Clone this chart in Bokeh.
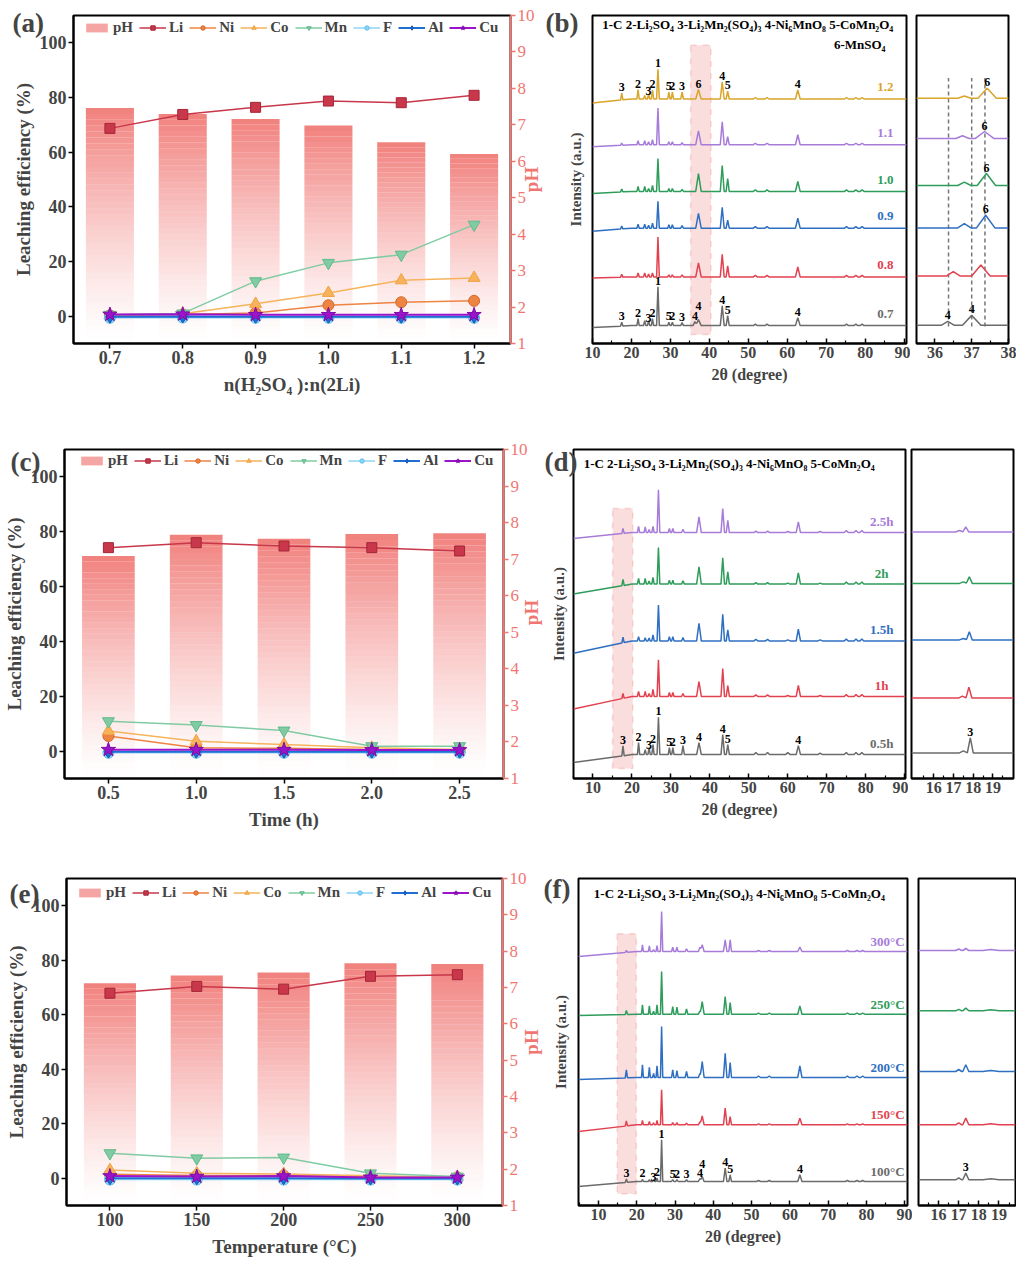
import numpy as np
from bokeh.plotting import figure
from bokeh.models import (Range1d, LinearAxis, FixedTicker, Legend, LegendItem, Label, Title,
                          ColumnDataSource, PrintfTickFormatter, BoxAnnotation)
from bokeh.layouts import row, column
from bokeh.embed import file_html
from bokeh.resources import INLINE
from bokeh.core.properties import value

SERIF = "Liberation Serif"
PH_COLOR = "#F07672"

# ---------------- leaching data ----------------
a_ratio = [0.7, 0.8, 0.9, 1.0, 1.1, 1.2]
a_ph = [7.46, 7.30, 7.16, 6.98, 6.52, 6.20]
a_li = [68.7, 73.8, 76.4, 78.7, 78.1, 80.8]
a_ni = [0.3, 0.6, 1.2, 4.0, 5.1, 5.6]
a_co = [0.4, 0.9, 4.5, 8.5, 13.1, 14.0]
a_mn = [0.5, 1.0, 12.8, 19.5, 22.5, 33.5]
a_f = [-0.6, -0.5, -0.6, -0.6, -0.6, -0.6]
a_al = [-0.2, -0.1, -0.2, -0.2, -0.2, -0.2]
a_cu = [0.6, 0.7, 0.5, 0.5, 0.5, 0.5]

c_time = [0.5, 1.0, 1.5, 2.0, 2.5]
c_ph = [7.09, 7.67, 7.56, 7.69, 7.71]
c_li = [74.2, 76.0, 74.8, 74.2, 73.0]
c_ni = [5.5, 1.2, 1.0, 0.6, 0.4]
c_co = [7.3, 3.6, 2.4, 1.2, 0.6]
c_mn = [10.9, 9.5, 7.5, 1.8, 1.8]
c_f = [-0.6, -0.6, -0.6, -0.6, -0.6]
c_al = [-0.2, -0.2, -0.2, -0.2, -0.2]
c_cu = [0.5, 0.5, 0.5, 0.4, 0.4]

e_temp = [100, 150, 200, 250, 300]
e_ph = [7.12, 7.33, 7.41, 7.67, 7.65]
e_li = [67.9, 70.4, 69.4, 74.1, 74.7]
e_ni = [1.5, 1.0, 1.0, 0.5, 0.3]
e_co = [3.0, 1.8, 1.6, 0.9, 0.4]
e_mn = [9.2, 7.3, 7.6, 1.8, 0.6]
e_f = [-0.5, -0.5, -0.5, -0.5, -0.5]
e_al = [0.0, 0.0, 0.0, -0.1, -0.1]
e_cu = [0.8, 0.6, 0.8, 0.3, 0.3]

SERIES = [  # name, color, marker, size, edge, line width
    ("Li", "#C8374A", "square", 10, "#A52638", 1.5),
    ("Ni", "#EE8442", "circle", 11, "#D5682E", 1.5),
    ("Co", "#F6B35B", "triangle", 12, "#EFA242", 1.5),
    ("Mn", "#80CBA3", "inverted_triangle", 12, "#62BA8C", 1.5),
    ("F", "#8DD4F6", "circle", 11, "#62BFEC", 1.5),
    ("Al", "#1F6ED4", "diamond", 13, "#1557B0", 2),
    ("Cu", "#9B14C9", "star", 15, "#7E0BA8", 2),
]

# ---------------- XRD data ----------------
b_names = ["0.7", "0.8", "0.9", "1.0", "1.1", "1.2"]
b_pos = [17.5, 21.7, 23.4, 24.4, 25.4, 26.8, 29.6, 30.5, 33.0, 36.3, 37.2, 43.3, 44.7, 51.8, 54.8, 62.7, 75.2, 77.6, 79.2]
b_wid = [0.3, 0.3, 0.3, 0.3, 0.3, 0.35, 0.3, 0.3, 0.35, 0.5, 0.7, 0.5, 0.4, 0.5, 0.5, 0.6, 0.5, 0.5, 0.5]
b_hts = [
    [4, 7, 5, 5, 7, 39, 3.5, 3.5, 3, 4, 6, 20, 10, 1.5, 1.5, 8, 1.5, 1.5, 1.5],
    [3, 4, 4, 3, 4, 40, 2, 2, 2, 0, 14, 22.7, 11, 1.5, 1.5, 10, 1.5, 1.5, 1.5],
    [3, 4, 4, 3, 5, 27, 3.5, 3.5, 2.5, 0, 15, 21, 8, 1.5, 1.5, 10, 1.5, 1.5, 1.5],
    [3, 5, 5, 3, 6, 33, 3, 3, 2, 0, 18, 26, 13, 1.5, 1.5, 10, 1.5, 1.5, 1.5],
    [2, 4, 4, 3, 5, 37, 3, 3, 2, 0, 14, 23, 8, 1.5, 1.5, 10, 1.5, 1.5, 1.5],
    [7, 9.5, 3.5, 5, 9, 30, 7, 7, 7, 0, 9.5, 17, 8, 1.5, 1.5, 9, 1.5, 1.5, 1.5],
]
b_base_left = [16, 66, 113, 151, 198, 242]
b_base_flat = [18, 67, 116, 153, 200, 246]
b_in_pos = [[36.35, 37.0], [36.5, 37.25], [36.8, 37.38], [36.8, 37.4], [36.75, 37.35], [36.8, 37.42]]
b_in_hts = [[4, 10], [4.3, 11], [4.3, 12.7], [3.3, 12], [2.7, 7], [2.3, 10]]
b_in_base = [18.3, 68, 116.3, 159, 206.3, 246.7]
b_in_refs = [36.37, 37.0, 37.36]

d_names = ["0.5h", "1h", "1.5h", "2h", "2.5h"]
d_pos = [17.7, 21.7, 23.4, 24.4, 25.4, 26.8, 29.6, 30.5, 33.1, 37.2, 43.3, 44.6, 51.8, 54.8, 60.0, 62.7, 68.3, 75.0, 77.5, 79.0]
d_wid = [0.3, 0.3, 0.3, 0.3, 0.3, 0.35, 0.3, 0.3, 0.35, 0.6, 0.45, 0.4, 0.5, 0.5, 0.6, 0.55, 0.6, 0.5, 0.5, 0.5]
d_hts = [
    [10, 12, 5, 7, 10, 37.3, 7, 7, 9, 12, 20, 10, 2, 2, 2, 9, 1.5, 2, 2, 2],
    [5, 5, 5, 3, 7, 36.7, 4, 4, 3, 15, 28, 11, 1.5, 1.5, 1, 11, 1, 2, 2, 2],
    [5.7, 4.3, 3.3, 3, 6, 36, 4.3, 4.3, 3.3, 17.7, 26.7, 11, 1.5, 1.5, 1, 11.7, 1, 2, 2, 2],
    [6.3, 5.7, 5.7, 3, 6.7, 36.7, 4, 4, 3.3, 17.3, 26.3, 12.3, 1.5, 1.5, 1, 11.3, 1, 2, 2, 2],
    [5, 6.3, 5.7, 3, 6.3, 43, 4, 4, 3.3, 15.7, 24, 12.3, 1.5, 1.5, 1, 10.7, 1, 2, 2, 2],
]
d_base_left = [16, 69.7, 125.7, 185, 240.7]
d_base_flat = [24, 82.3, 138, 195, 246.7]
d_in_pos = [[17.5, 17.85], [17.45, 17.78], [17.5, 17.8], [17.5, 17.8], [17.3, 17.62]]
d_in_hts = [[2, 15], [2, 11], [1.5, 8.3], [1.5, 6.7], [1.5, 5]]
d_in_base = [25.7, 80.7, 139, 195.7, 247.3]

f_names = ["100°C", "150°C", "200°C", "250°C", "300°C"]
f_pos = [17.3, 21.5, 23.3, 24.4, 25.3, 26.5, 29.4, 30.5, 33.0, 36.5, 37.1, 43.1, 44.4, 51.8, 54.6, 62.6, 75.0, 77.5, 79.0]
f_wid = [0.3, 0.25, 0.25, 0.25, 0.25, 0.3, 0.3, 0.3, 0.35, 0.4, 0.5, 0.45, 0.35, 0.5, 0.5, 0.55, 0.5, 0.5, 0.5]
f_hts = [
    [3.3, 2.3, 2, 2, 3.3, 41.7, 2, 2, 1.7, 3, 5, 13.3, 6.7, 1, 1, 6.7, 1, 1, 1],
    [5, 4.3, 3.3, 2, 4.3, 35, 2.3, 2.3, 1.7, 3, 9, 16.7, 8.3, 1, 1, 6.7, 1, 1, 1],
    [8, 12.7, 10.3, 4, 11.7, 51, 7.7, 7, 6, 4, 16, 24.3, 15, 1.5, 1.5, 11.7, 1.5, 1.5, 1.5],
    [4, 9.3, 8.3, 3, 9.3, 42.7, 7.7, 7, 5.3, 3, 12.7, 17.7, 11.7, 1, 1, 8.3, 1, 1, 1],
    [2, 6.7, 5.7, 2, 6, 40, 4.3, 4.3, 2.7, 4.3, 6.7, 11.7, 11.7, 1, 1, 4.3, 1, 1, 1],
]
f_base_left = [19, 74, 126, 190, 249]
f_base_flat = [24, 80.7, 128, 191.3, 254]
f_in_pos = [[17.0, 17.35, 18.6], [17.0, 17.35, 18.6], [17.0, 17.35, 18.6], [17.0, 17.35, 18.6], [17.0, 17.35, 18.6]]
f_in_hts = [[2, 6.7, 1], [2, 6.7, 1], [2, 6.7, 1], [1.5, 2.7, 1], [1.5, 2, 1]]
f_in_base = [25.7, 80.7, 134, 194.7, 255]

XRD_COLORS = ["#6B6B6B", "#E2424F", "#2F6FC2", "#2E9C5A", "#A77CD9", "#D9A52A"]

HEADER = "1-C  2-Li₂SO₄  3-Li₂Mn₂(SO₄)₃  4-Ni₆MnO₈  5-CoMn₂O₄"


def text_label(x, y, text, size, color="black", align="left"):
    return Label(x=x, y=y, text=text, text_align=align, text_baseline="middle",
                 text_color=color, text_font=SERIF, text_font_style="bold",
                 text_font_size=size)


def tag_title(p, tag, offset, standoff):
    # panel letter drawn in the top border (negative standoff keeps the frame in place)
    p.add_layout(Title(text=tag, align="left", offset=offset, standoff=standoff,
                       vertical_align="bottom", text_font=SERIF, text_font_style="bold",
                       text_font_size="27px"), "above")


def tag_label(p, tag, cx, cy):
    p.add_layout(Label(x=cx, y=cy, x_units="canvas", y_units="canvas", text=tag,
                       text_align="left", text_baseline="middle", text_font=SERIF,
                       text_font_style="bold", text_font_size="27px"), "above")


# ---------------- helpers ----------------
def leach_panel(x, ph, vals, W, H, bl, br, bt, bb, xr, fmt, bar_w, xlabel,
                leg_dx, leg_top, tag, tag_off, tag_standoff, ph_mode, ph_a, ph_b):
    p = figure(width=W, height=H, x_range=Range1d(*xr), y_range=Range1d(-10, 110),
               output_backend="svg", toolbar_location=None,
               min_border_left=bl, min_border_right=br, min_border_top=bt, min_border_bottom=bb)
    p.extra_y_ranges = {"ph": Range1d(1, 10)}
    p.xgrid.visible = False
    p.ygrid.visible = False
    p.outline_line_color = "black"
    p.outline_line_width = 2

    N = 40
    xs, bots, tops, alphas = [], [], [], []
    for xi, v in zip(x, ph):
        for k in range(N):
            t0, t1 = k / N, (k + 1) / N
            xs.append(xi)
            bots.append(1 + (v - 1) * t0)
            tops.append(1 + (v - 1) * t1)
            alphas.append(0.92 * ((t0 + t1) / 2) ** 1.3)
    src = ColumnDataSource(dict(x=xs, bottom=bots, top=tops, alpha=alphas))
    bars = p.vbar(x="x", width=bar_w, bottom="bottom", top="top", source=src,
                  fill_color=PH_COLOR, fill_alpha="alpha", line_color=None, y_range_name="ph")
    items = [LegendItem(label="pH", renderers=[bars], index=N - 10)]
    for (name, color, marker, size, edge, lw), yv in zip(SERIES, vals):
        r1 = p.line(x, yv, line_color=color, line_width=lw)
        r2 = p.scatter(x, yv, marker=marker, size=size, fill_color=color,
                       line_color=edge, line_width=1)
        items.append(LegendItem(label=name, renderers=[r1, r2]))

    frame_h = H - bt - bb
    leg = Legend(items=items, orientation="horizontal",
                 location=(leg_dx, frame_h - leg_top - 15),
                 border_line_color=None, background_fill_alpha=0,
                 glyph_width=27, glyph_height=11, label_standoff=3, spacing=6,
                 padding=0, margin=0, label_text_font=SERIF,
                 label_text_font_style="bold", label_text_font_size="15px",
                 label_height=14, label_width=0)
    p.add_layout(leg)

    ya = p.yaxis[0]
    ya.ticker = FixedTicker(ticks=[0, 20, 40, 60, 80, 100])
    ya.axis_label = "Leaching efficiency (%)"
    xa = p.xaxis[0]
    xa.ticker = FixedTicker(ticks=list(x))
    xa.formatter = PrintfTickFormatter(format=fmt)
    xa.axis_label = xlabel
    for ax in (ya, xa):
        ax.axis_line_width = 2
        ax.axis_line_color = "black"
        ax.major_tick_line_width = 1.5
        ax.major_tick_out = 5
        ax.major_tick_in = 0
        ax.minor_tick_line_color = None
        ax.major_label_text_font = SERIF
        ax.major_label_text_font_style = "bold"
        ax.major_label_text_font_size = "18px"
        ax.major_label_standoff = 2
        ax.axis_label_text_font = SERIF
        ax.axis_label_text_font_style = "bold"
        ax.axis_label_text_font_size = "19px"
    ya.axis_label_standoff = 3
    xa.axis_label_standoff = 7

    ra = LinearAxis(y_range_name="ph", ticker=FixedTicker(ticks=list(range(1, 11))))
    ra.axis_line_color = PH_COLOR
    ra.axis_line_width = 2
    ra.major_tick_line_color = PH_COLOR
    ra.major_tick_line_width = 1.5
    ra.major_tick_out = 5
    ra.major_tick_in = 0
    ra.minor_tick_line_color = None
    ra.major_label_text_color = PH_COLOR
    ra.major_label_text_font = SERIF
    ra.major_label_text_font_size = "17px"
    ra.major_label_standoff = 2
    p.add_layout(ra, "right")

    tag_title(p, tag, tag_off, tag_standoff)
    if ph_mode == "above":
        # rotated pH title in the top border, canvas coordinates
        p.add_layout(Label(x=ph_a, y=ph_b, x_units="canvas", y_units="canvas", text="pH",
                           angle=np.pi / 2, text_align="center", text_baseline="middle",
                           text_color=PH_COLOR, text_font=SERIF, text_font_style="bold",
                           text_font_size="19px"), "above")
    else:
        # rotated pH title carried by a left-border title pushed across the plot
        p.add_layout(Title(text="pH", align="center", standoff=ph_a, vertical_align="bottom",
                           text_color=PH_COLOR, text_font=SERIF, text_font_style="bold",
                           text_font_size="19px"), "left")
    return p


def xrd_fig(W, H, bl, br, bt, bb, xr, ytop, ticks, minor, xlabel=None, ylabel=None, ylab_standoff=8):
    kw = dict(width=W, height=H, x_range=Range1d(*xr), y_range=Range1d(0, ytop),
              output_backend="svg", toolbar_location=None,
              min_border_left=bl, min_border_right=br, min_border_top=bt, min_border_bottom=bb)
    if ylabel is None:
        kw["y_axis_location"] = None
    p = figure(**kw)
    p.xgrid.visible = False
    p.ygrid.visible = False
    p.outline_line_color = "black"
    p.outline_line_width = 2
    xa = p.xaxis[0]
    xa.ticker = FixedTicker(ticks=ticks, minor_ticks=minor)
    xa.axis_line_width = 2
    xa.major_tick_in = 5
    xa.major_tick_out = 0
    xa.minor_tick_in = 3
    xa.minor_tick_out = 0
    xa.major_tick_line_width = 1.5
    xa.minor_tick_line_width = 1.2
    xa.major_label_text_font = SERIF
    xa.major_label_text_font_style = "bold"
    xa.major_label_text_font_size = "16px"
    xa.major_label_standoff = 3
    if xlabel:
        xa.axis_label = xlabel
        xa.axis_label_text_font = SERIF
        xa.axis_label_text_font_style = "bold"
        xa.axis_label_text_font_size = "16px"
        xa.axis_label_standoff = 5
    if ylabel:
        ya = p.yaxis[0]
        ya.ticker = FixedTicker(ticks=[])
        ya.axis_label = ylabel
        ya.axis_line_color = None
        ya.major_tick_out = 0
        ya.major_tick_in = 0
        ya.minor_tick_out = 0
        ya.major_label_standoff = 0
        ya.axis_label_standoff = ylab_standoff
        ya.axis_label_text_font = SERIF
        ya.axis_label_text_font_style = "bold"
        ya.axis_label_text_font_size = "15px"
    return p


def xrd_curve(pos, wid, hts, x0, x1, b_left, b_flat, knee):
    keys = [x0, knee, x1]
    for p_, w_ in zip(pos, wid):
        keys += [p_ - w_, p_, p_ + w_]
    xs = np.unique(np.clip(np.array(keys, float), x0, x1))
    base = np.interp(xs, [x0, knee, x1], [b_left, b_flat, b_flat])
    bumps = np.zeros_like(xs)
    for p_, w_, h_ in zip(pos, wid, hts):
        bumps = np.maximum(bumps, h_ * np.clip(1 - np.abs(xs - p_) / w_, 0, None))
    return xs, base + bumps


def add_peak_labels(p, pos, hts, labels, x0, x1, b_left, b_flat, knee):
    xs, ys, ts = [], [], []
    for i, t, dy in labels:
        base = float(np.interp(pos[i], [x0, knee, x1], [b_left, b_flat, b_flat]))
        xs.append(pos[i])
        ys.append(base + hts[i] + 2 + dy)
        ts.append(t)
    p.text(x=xs, y=ys, text=ts, text_align="center", text_baseline="bottom",
           text_font=value(SERIF), text_font_style="bold", text_font_size=value("12px"),
           text_color="black")


def header(p, x, y, text, align="left"):
    p.add_layout(text_label(x, y, text, "13px", align=align))


def sample_labels(p, x, bases, names, colors, dy):
    for b, n, c in zip(bases, names, colors):
        p.add_layout(text_label(x, b + dy, n, "13px", color=c, align="center"))


# ---------------- row 1 (page y 0-400) ----------------
fig_a = leach_panel(a_ratio, a_ph, [a_li, a_ni, a_co, a_mn, a_f, a_al, a_cu],
                    544, 400, 73, 34, 15, 57, (0.65, 1.25), "%.1f", 0.066,
                    "n(H₂SO₄ ):n(2Li)", 10, 6, "(a)", -61, -44, "left", -1064, None)

B0, B1, BK = 10, 90.6, 20
fig_b = xrd_fig(366, 400, 48, 4, 14, 56, (B0, B1), 330, list(range(10, 91, 10)),
                list(range(15, 90, 10)), xlabel="2θ (degree)", ylabel="Intensity (a.u.)",
                ylab_standoff=9)
fig_b.add_layout(BoxAnnotation(left=35.2, right=40.4, bottom=9, top=300, fill_color="#F5B3B3",
                               fill_alpha=0.45, line_color="#EE8080", line_dash="dashed",
                               line_width=1.5, level="underlay"))
for k in range(len(b_names)):
    xs, ys = xrd_curve(b_pos, b_wid, b_hts[k], B0, B1, b_base_left[k], b_base_flat[k], BK)
    fig_b.line(xs, ys, line_color=XRD_COLORS[k], line_width=1.5)
b_lab_low = [(0, "3", 0), (1, "2", 0), (3, "3", -3), (4, "2", 0), (5, "1", 0), (6, "5", 0),
             (7, "2", 0), (8, "3", 0), (9, "4", 0), (10, "4", 8), (11, "4", 0), (12, "5", 0), (15, "4", 0)]
b_lab_high = [(0, "3", 0), (1, "2", 0), (3, "3", -3), (4, "2", 0), (5, "1", 0), (6, "5", 0),
              (7, "2", 0), (8, "3", 0), (10, "6", 0), (11, "4", 0), (12, "5", 0), (15, "4", 0)]
add_peak_labels(fig_b, b_pos, b_hts[0], b_lab_low, B0, B1, b_base_left[0], b_base_flat[0], BK)
add_peak_labels(fig_b, b_pos, b_hts[5], b_lab_high, B0, B1, b_base_left[5], b_base_flat[5], BK)
header(fig_b, 12.5, 321.3, HEADER)
header(fig_b, 85.2, 300.7, "6-MnSO₄", align="right")
sample_labels(fig_b, 85.2, b_base_flat, b_names, XRD_COLORS, 12)
tag_title(fig_b, "(b)", -47, -45)

fig_b_in = xrd_fig(106, 400, 6, 8, 14, 56, (35.5, 38), 330, [36, 37, 38], [35.5, 36.5, 37.5])
fig_b_in.segment(x0=b_in_refs, y0=[17] * 3, x1=b_in_refs, y1=[267] * 3, line_color="#777777",
                 line_dash="4 3", line_width=1.5)
for k in range(len(b_names)):
    xs, ys = xrd_curve(b_in_pos[k], [0.18, 0.25], b_in_hts[k], 35.5, 38, b_in_base[k], b_in_base[k], 35.5)
    fig_b_in.line(xs, ys, line_color=XRD_COLORS[k], line_width=1.5)
for k in range(2, 6):
    add_peak_labels(fig_b_in, b_in_pos[k], b_in_hts[k], [(1, "6", 0)], 35.5, 38, b_in_base[k], b_in_base[k], 35.5)
add_peak_labels(fig_b_in, b_in_pos[0], b_in_hts[0], [(0, "4", 0), (1, "4", 0)], 35.5, 38, b_in_base[0], b_in_base[0], 35.5)

# ---------------- row 2 (page y 400-840) ----------------
fig_c = leach_panel(c_time, c_ph, [c_li, c_ni, c_co, c_mn, c_f, c_al, c_cu],
                    543, 440, 63, 40, 46, 62, (0.25, 2.75), "%.1f", 0.3,
                    "Time (h)", 14, 8, "(c)", -54, -54, "above", 531, 212)

D0, D1, DK = 5, 90.2, 20
fig_d = xrd_fig(365, 440, 30, 3, 49, 61, (D0, D1), 330, list(range(10, 91, 10)),
                list(range(5, 90, 10)), xlabel="2θ (degree)", ylabel="Intensity (a.u.)",
                ylab_standoff=7)
fig_d.add_layout(BoxAnnotation(left=15.05, right=20.2, bottom=10, top=270.7, fill_color="#F5B3B3",
                               fill_alpha=0.45, line_color="#EE8080", line_dash="dashed",
                               line_width=1.5, level="underlay"))
for k in range(len(d_names)):
    xs, ys = xrd_curve(d_pos, d_wid, d_hts[k], D0, D1, d_base_left[k], d_base_flat[k], DK)
    fig_d.line(xs, ys, line_color=XRD_COLORS[k], line_width=1.5)
d_lab = [(0, "3", 0), (1, "2", 0), (3, "3", -3), (4, "2", 0), (5, "1", 0), (6, "5", 0),
         (7, "2", 0), (8, "3", 0), (9, "4", 0), (10, "4", 0), (11, "5", 0), (15, "4", 0)]
add_peak_labels(fig_d, d_pos, d_hts[0], d_lab, D0, D1, d_base_left[0], d_base_flat[0], DK)
header(fig_d, 7.6, 315.7, HEADER)
sample_labels(fig_d, 84.1, d_base_flat, d_names, XRD_COLORS, 11)
tag_label(fig_d, "(d)", 1, 61)

fig_d_in = xrd_fig(108, 440, 3, 3, 49, 61, (14.87, 20.04), 330, [16, 17, 18, 19],
                   [15.5, 16.5, 17.5, 18.5, 19.5])
for k in range(len(d_names)):
    xs, ys = xrd_curve(d_in_pos[k], [0.2, 0.15], d_in_hts[k], 14.87, 20.04, d_in_base[k], d_in_base[k], 14.87)
    fig_d_in.line(xs, ys, line_color=XRD_COLORS[k], line_width=1.5)
add_peak_labels(fig_d_in, d_in_pos[0], d_in_hts[0], [(1, "3", 0)], 14.87, 20.04, d_in_base[0], d_in_base[0], 14.87)

# ---------------- row 3 (page y 840-1268) ----------------
fig_e = leach_panel(e_temp, e_ph, [e_li, e_ni, e_co, e_mn, e_f, e_al, e_cu],
                    543, 428, 66, 41, 37, 62, (75, 326), "%d", 30,
                    "Temperature (°C)", 10, 10, "(e)", -57, -60, "above", 531, 201.5)

F0, F1, FK = 4.8, 90.7, 20
fig_f = xrd_fig(369, 428, 35, 5, 38, 63, (F0, F1), 327, list(range(10, 91, 10)),
                list(range(5, 90, 10)), xlabel="2θ (degree)", ylabel="Intensity (a.u.)",
                ylab_standoff=10)
fig_f.add_layout(BoxAnnotation(left=14.9, right=19.9, bottom=11.7, top=271.7, fill_color="#F5B3B3",
                               fill_alpha=0.45, line_color="#EE8080", line_dash="dashed",
                               line_width=1.5, level="underlay"))
for k in range(len(f_names)):
    xs, ys = xrd_curve(f_pos, f_wid, f_hts[k], F0, F1, f_base_left[k], f_base_flat[k], FK)
    fig_f.line(xs, ys, line_color=XRD_COLORS[k], line_width=1.5)
f_lab = [(0, "3", 0), (1, "2", 0), (3, "3", -3), (4, "2", 0), (5, "1", 0), (6, "5", 0),
         (7, "2", 0), (8, "3", 0), (9, "4", 0), (10, "4", 7), (11, "4", 0), (12, "5", 0), (15, "4", 0)]
add_peak_labels(fig_f, f_pos, f_hts[0], f_lab, F0, F1, f_base_left[0], f_base_flat[0], FK)
header(fig_f, 8.8, 312, HEADER)
sample_labels(fig_f, 85.5, f_base_flat, f_names, XRD_COLORS, 10)
tag_label(fig_f, "(f)", 0, 48)

fig_f_in = xrd_fig(104, 428, 6, 1, 38, 63, (15, 19.82), 327, [16, 17, 18, 19],
                   [15.5, 16.5, 17.5, 18.5, 19.5])
for k in range(len(f_names)):
    xs, ys = xrd_curve(f_in_pos[k], [0.15, 0.15, 0.4], f_in_hts[k], 15, 19.82, f_in_base[k], f_in_base[k], 15)
    fig_f_in.line(xs, ys, line_color=XRD_COLORS[k], line_width=1.5)
add_peak_labels(fig_f_in, f_in_pos[0], f_in_hts[0], [(1, "3", 0)], 15, 19.82, f_in_base[0], f_in_base[0], 15)

layout = column(row(fig_a, fig_b, fig_b_in), row(fig_c, fig_d, fig_d_in), row(fig_e, fig_f, fig_f_in))
open("out.html", "w").write(file_html(layout, INLINE))
